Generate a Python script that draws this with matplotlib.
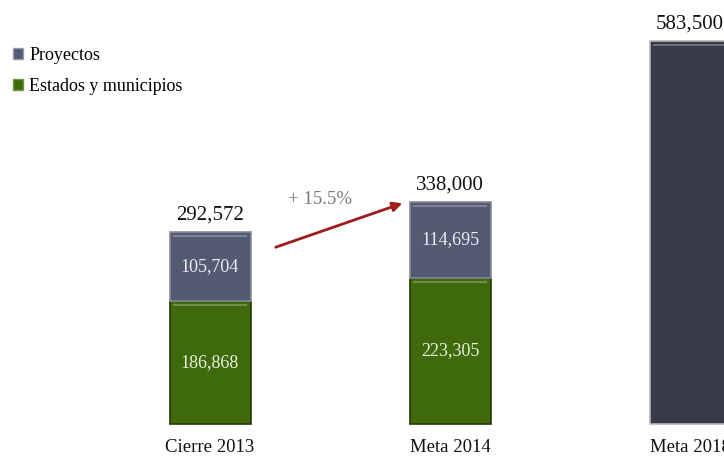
import matplotlib
matplotlib.use("Agg")
import matplotlib.pyplot as plt
from matplotlib.patches import Patch
from matplotlib.transforms import blended_transform_factory

categories = ["Cierre 2013", "Meta 2014", "Meta 2018"]
estados = [186868, 223305, 0]
proyectos = [105704, 114695, 0]
meta_total = [0, 0, 583500]
totals = [292572, 338000, 583500]
growth_label = "+ 15.5%"

plt.rcParams['font.family'] = ['Liberation Serif', 'DejaVu Serif']

W, H = 724, 458
fig = plt.figure(figsize=(W / 100, H / 100), dpi=100)
ax = fig.add_axes([0, 0, 1, 1])
ax.set_axis_off()

px_x = 240.0
x0 = 210.0
ax.set_xlim(-x0 / px_x, (W - x0) / px_x)
per_px = 1525.0
bottom_px = 34
ax.set_ylim(-bottom_px * per_px, (H - bottom_px) * per_px)

xs = list(range(len(categories)))
bw = 81 / px_x

green = "#3e6a0c"
slate = "#545a72"
dark = "#373b49"

ax.bar(xs[:2], estados[:2], width=bw, color=green, edgecolor="#1f3a05", linewidth=1.2)
ax.bar(xs[:2], proyectos[:2], bottom=estados[:2], width=bw, color=slate,
       edgecolor="#8a8c96", linewidth=1.2)
ax.bar(xs[2], meta_total[2], width=bw, color=dark, edgecolor="#b8b8b8", linewidth=1.2)

# bevel highlight lines along tops of segments
for i in range(2):
    for bot, h in ((0, estados[i]), (estados[i], proyectos[i])):
        top = bot + h
        ax.plot([i - bw / 2 + 0.02, i + bw / 2 - 0.02], [top - 4 * per_px] * 2,
                color="white", alpha=0.25, lw=1.5)
ax.plot([2 - bw / 2 + 0.02, 2 + bw / 2 - 0.02], [meta_total[2] - 4 * per_px] * 2,
        color="white", alpha=0.25, lw=1.5)

for i in range(2):
    ax.text(i, estados[i] / 2, f"{estados[i]:,}", ha="center", va="center",
            color="#e8f0dc", fontsize=13)
    ax.text(i, estados[i] + proyectos[i] / 2, f"{proyectos[i]:,}", ha="center",
            va="center", color="#eceef4", fontsize=13)

for i, t in enumerate(totals):
    ax.text(i, t + 8 * per_px, f"{t:,}", ha="center", va="bottom",
            color="#111111", fontsize=15)

trans = blended_transform_factory(ax.transData, fig.transFigure)
for i, c in enumerate(categories):
    ax.text(i, 1 - 448 / H, c, ha="center", va="center", fontsize=13.5,
            color="#111111", transform=trans)

# growth arrow
ax.annotate("", xy=(0 + 195 / px_x, totals[1] + 0 * per_px),
            xytext=(0 + 63 / px_x, totals[0] - 16 * per_px),
            arrowprops=dict(arrowstyle="-|>", color="#a01c1c", lw=2,
                            mutation_scale=14))
ax.text(0 + 110 / px_x, totals[1] + 3 * per_px, growth_label, ha="center",
        va="center", color="#7a7a7a", fontsize=13.5)

handles = [Patch(facecolor=slate, edgecolor="#9a9aa8"),
           Patch(facecolor=green, edgecolor="#6a9a3a")]
ax.legend(handles, ["Proyectos", "Estados y municipios"], loc="upper left",
          bbox_to_anchor=(6 / W, 1 - 40 / H), bbox_transform=fig.transFigure,
          frameon=False, fontsize=13, handlelength=0.55, handleheight=0.55,
          handletextpad=0.35, labelspacing=0.75, borderaxespad=0)

fig.savefig("out.png", dpi=100)
